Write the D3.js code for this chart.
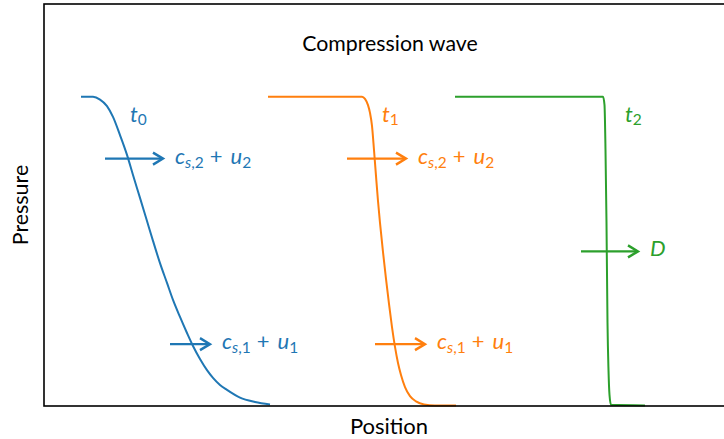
<!DOCTYPE html>
<html>
<head>
<meta charset="utf-8">
<script src="https://cdn.jsdelivr.net/npm/d3@7"></script>
<style>
  body { margin: 0; background: #fff; }
  svg text { font-family: Lato, "DejaVu Sans", sans-serif; }
</style>
</head>
<body>
<svg id="chart" width="724" height="439"></svg>
<script>
// Pressure profiles of a steepening compression wave at three instants
const profileColors = ["#1f77b4", "#ff7f0e", "#2ca02c"];

const t0X = [0.37, 0.49, 0.56, 0.63, 0.69, 0.76, 0.83, 0.89, 0.96, 1.03, 1.09, 1.16, 1.23, 1.29, 1.36, 1.43, 1.49, 1.56, 1.63, 1.69, 1.76, 1.83, 1.96, 2.11, 2.26];
const t0P = [1.0, 1.0, 0.991, 0.970, 0.935, 0.876, 0.812, 0.747, 0.673, 0.598, 0.534, 0.462, 0.398, 0.343, 0.288, 0.236, 0.194, 0.152, 0.116, 0.091, 0.068, 0.052, 0.027, 0.013, 0.005];

const t1X = [2.24, 3.18, 3.21, 3.24, 3.26, 3.28, 3.30, 3.32, 3.34, 3.36, 3.39, 3.42, 3.45, 3.48, 3.51, 3.54, 3.57, 3.61, 3.66, 3.72, 3.80, 3.91, 4.12];
const t1P = [1.0, 1.0, 0.993, 0.973, 0.948, 0.906, 0.828, 0.744, 0.663, 0.592, 0.498, 0.411, 0.330, 0.255, 0.191, 0.139, 0.100, 0.061, 0.032, 0.015, 0.005, 0.002, 0.002];

const t2X = [4.11, 5.59, 5.605, 5.615, 5.625, 5.635, 5.645, 5.655, 5.67, 6.01];
const t2P = [1.0, 1.0, 0.974, 0.828, 0.592, 0.269, 0.116, 0.036, 0.004, 0.002];

// Characteristic speed arrows: start, end, height, colour index, label
const arrowX0 = [0.61, 3.03, 1.26, 3.31, 5.37];
const arrowX1 = [1.19, 3.62, 1.66, 3.81, 5.94];
const arrowP = [0.8, 0.8, 0.2, 0.2, 0.5];
const arrowColor = [0, 1, 0, 1, 2];
const arrowLabel = ["cs2", "cs2", "cs1", "cs1", "D"];

// Time labels next to the top of each profile
const timeLabelX = [0.86, 3.38, 5.81];
const timeLabelP = [0.96, 0.96, 0.96];
const timeLabelSub = ["0", "1", "2"];

const titleText = "Compression wave";
const xLabel = "Position";
const yLabel = "Pressure";

const svg = d3.select("#chart");

const x = d3.scaleLinear().domain([0, 7]).range([44, 744]);
const y = d3.scaleLinear().domain([0, 1.3]).range([406, 4]);

const profiles = [
  t0X.map((v, i) => [v, t0P[i]]),
  t1X.map((v, i) => [v, t1P[i]]),
  t2X.map((v, i) => [v, t2P[i]])
];

const line = d3.line()
  .x(d => x(d[0]))
  .y(d => y(d[1]))
  .curve(d3.curveMonotoneX);

svg.append("g").selectAll("path")
  .data(profiles)
  .join("path")
  .attr("d", line)
  .attr("fill", "none")
  .attr("stroke", (d, i) => profileColors[i])
  .attr("stroke-width", 2)
  .attr("stroke-linejoin", "round");

// Frame of the axes
const [x0, x1] = x.range();
const [yb, yt] = y.range();
svg.append("rect")
  .attr("x", x0).attr("y", yt)
  .attr("width", x1 - x0).attr("height", yb - yt)
  .attr("fill", "none")
  .attr("stroke", "#000")
  .attr("stroke-width", 1.6);

// Arrows with open heads
const arrows = svg.append("g");
arrowX0.forEach((ax, i) => {
  const c = profileColors[arrowColor[i]];
  const sx = x(ax), ex = x(arrowX1[i]), yy = y(arrowP[i]);
  const g = arrows.append("g")
    .attr("stroke", c).attr("stroke-width", 2.4)
    .attr("fill", "none").attr("stroke-linecap", "butt")
    .attr("stroke-linejoin", "miter");
  g.append("line").attr("x1", sx).attr("y1", yy).attr("x2", ex - 1).attr("y2", yy);
  g.append("path")
    .attr("d", `M${ex - 10},${yy - 6} L${ex},${yy} L${ex - 10},${yy + 6}`);
});

// Math-style labels: italic symbols with subscripts
function mathLabel(sel, parts, color) {
  const t = sel.append("text").attr("fill", color).attr("font-size", 22);
  parts.forEach(p => {
    const s = t.append("tspan").text(p.text);
    if (p.italic) s.attr("font-style", "italic");
    if (p.sub) s.attr("font-size", 15.5);
    if (p.dy) s.attr("dy", p.dy);
    if (p.dx) s.attr("dx", p.dx);
  });
  return t;
}

const labelGroup = svg.append("g");
arrowX0.forEach((ax, i) => {
  const c = profileColors[arrowColor[i]];
  const lx = x(arrowX1[i]) + 12;
  const ly = y(arrowP[i]) + 5;
  let parts;
  if (arrowLabel[i] === "D") {
    parts = [{ text: "D", italic: true }];
  } else {
    const n = arrowLabel[i] === "cs2" ? "2" : "1";
    parts = [
      { text: "c", italic: true },
      { text: "s", italic: true, sub: true, dy: 4 },
      { text: "," + n, sub: true },
      { text: "+", dy: -4, dx: 6 },
      { text: "u", italic: true, dx: 8 },
      { text: n, sub: true, dy: 4 }
    ];
  }
  mathLabel(labelGroup, parts, c).attr("x", lx).attr("y", ly);
});

timeLabelX.forEach((tx, i) => {
  mathLabel(labelGroup, [
    { text: "t", italic: true },
    { text: timeLabelSub[i], sub: true, dy: 3 }
  ], profileColors[i]).attr("x", x(tx)).attr("y", y(timeLabelP[i]) + 13);
});

svg.append("text")
  .attr("x", 390).attr("y", 51)
  .attr("text-anchor", "middle")
  .attr("font-size", 21.3)
  .attr("fill", "#000")
  .text(titleText);

svg.append("text")
  .attr("x", 389).attr("y", 434)
  .attr("text-anchor", "middle")
  .attr("font-size", 22)
  .attr("fill", "#000")
  .text(xLabel);

svg.append("text")
  .attr("transform", "translate(28,205) rotate(-90)")
  .attr("text-anchor", "middle")
  .attr("font-size", 21.4)
  .attr("fill", "#000")
  .text(yLabel);
</script>
</body>
</html>
